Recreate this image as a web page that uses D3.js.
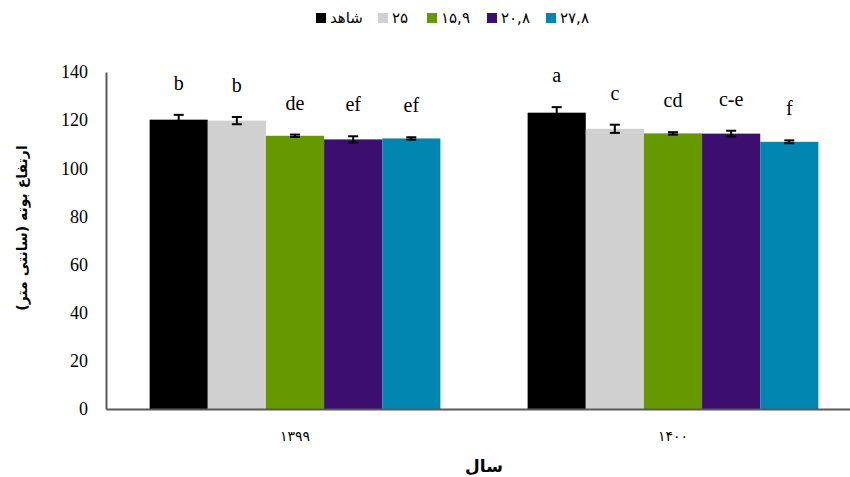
<!DOCTYPE html>
<html>
<head>
<meta charset="utf-8">
<script src="https://cdn.jsdelivr.net/npm/d3@7"></script>
<style>
  body { margin: 0; background: #fff; }
  svg { display: block; }
</style>
</head>
<body>
<svg width="850" height="477"></svg>
<script>
// data
const years = ["۱۳۹۹", "۱۴۰۰"];
const series = ["شاهد", "۲۵", "۱۵,۹", "۲۰,۸", "۲۷,۸"];
const colors = ["#000000", "#d0d0d0", "#669900", "#3b0e6f", "#0086b0"];
const means = [
    [120.2, 119.8, 113.5, 112.0, 112.4],
    [123.1, 116.4, 114.5, 114.4, 111.0]
];
const errs = [
    [2.0, 1.5, 0.5, 1.3, 0.5],
    [2.3, 1.7, 0.5, 1.2, 0.6]
];
const letters = [
    ["b", "b", "de", "ef", "ef"],
    ["a", "c", "cd", "c-e", "f"]
];
const yTicks = [0, 20, 40, 60, 80, 100, 120, 140];

var svg = d3.select("svg");
var plotLeft = 106, plotRight = 862, plotTop = 72, plotBottom = 409;

var x0 = d3.scaleBand().domain(years).range([plotLeft, plotRight]).paddingInner(0).paddingOuter(0);
var x1 = d3.scaleBand().domain(series).range([0, x0.bandwidth()]).paddingInner(0).paddingOuter(0.75);
var y = d3.scaleLinear().domain([0, 140]).range([plotBottom, plotTop]);

// bars
years.forEach(function(yr, i) {
    var g = svg.append("g").attr("transform", "translate(" + x0(yr) + ",0)");
    series.forEach(function(s, j) {
        var bx = x1(s), bw = x1.bandwidth();
        g.append("rect")
            .attr("x", bx).attr("y", y(means[i][j]))
            .attr("width", bw).attr("height", y(0) - y(means[i][j]))
            .attr("fill", colors[j]);
        var cx = bx + bw / 2;
        var hi = y(means[i][j] + errs[i][j]), lo = y(means[i][j] - errs[i][j]);
        g.append("line").attr("x1", cx).attr("x2", cx).attr("y1", hi).attr("y2", lo)
            .attr("stroke", "#000").attr("stroke-width", 2);
        [hi, lo].forEach(function(yy) {
            g.append("line").attr("x1", cx - 5).attr("x2", cx + 5).attr("y1", yy).attr("y2", yy)
                .attr("stroke", "#000").attr("stroke-width", 2);
        });
        g.append("text")
            .attr("x", cx).attr("y", hi - 25)
            .attr("text-anchor", "middle")
            .attr("font-family", "Liberation Serif, serif")
            .attr("font-size", 20)
            .text(letters[i][j]);
    });
});

// y axis
var yAxis = d3.axisLeft(y).tickValues(yTicks).tickSize(0).tickPadding(18);
var ya = svg.append("g").attr("transform", "translate(" + plotLeft + ",0)").call(yAxis);
ya.select(".domain").attr("stroke", "#595959").attr("stroke-width", 2);
ya.selectAll("text")
    .attr("font-family", "Liberation Serif, serif")
    .attr("font-size", 18).attr("fill", "#000");

// x axis
var xAxis = d3.axisBottom(x0).tickSize(0).tickPadding(22);
var xa = svg.append("g").attr("transform", "translate(0," + plotBottom + ")").call(xAxis);
xa.select(".domain").attr("stroke", "#595959").attr("stroke-width", 2);
xa.selectAll("text")
    .attr("font-family", "DejaVu Sans, sans-serif")
    .attr("font-size", 14).attr("fill", "#000");

// axis titles
svg.append("text")
    .attr("x", (plotLeft + plotRight) / 2).attr("y", 472)
    .attr("text-anchor", "middle")
    .attr("font-family", "DejaVu Sans, sans-serif")
    .attr("font-size", 17).attr("font-weight", "bold")
    .text("سال");

svg.append("text")
    .attr("transform", "translate(27,228) rotate(-90)")
    .attr("text-anchor", "middle")
    .attr("font-family", "DejaVu Sans, sans-serif")
    .attr("font-size", 14).attr("font-weight", "bold")
    .text("ارتفاع بوته (سانتی متر)");

// legend
var legX = [316, 378, 427, 487, 546];
var legend = svg.append("g");
series.forEach(function(s, j) {
    legend.append("rect")
        .attr("x", legX[j]).attr("y", 13).attr("width", 10).attr("height", 10)
        .attr("fill", colors[j]);
    legend.append("text")
        .attr("x", legX[j] + 14).attr("y", 23)
        .attr("font-family", "DejaVu Sans, sans-serif")
        .attr("font-size", 15)
        .attr("direction", "ltr")
        .text(s);
});
</script>
</body>
</html>
